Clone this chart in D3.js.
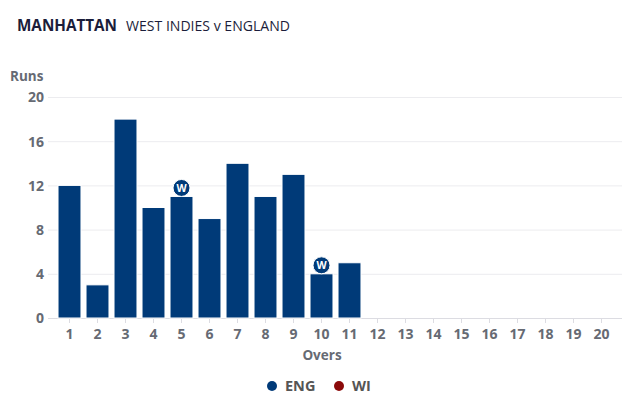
<!DOCTYPE html>
<html><head><meta charset="utf-8">
<script src="https://cdn.jsdelivr.net/npm/d3@7"></script>
<style>body{margin:0;background:#fff;}svg{display:block;font-family:"Open Sans",sans-serif;}</style>
</head><body>
<svg id="c" width="640" height="406"></svg>
<script>
const overs = d3.range(1, 21).map(String);
const engRuns = [12, 3, 18, 10, 11, 9, 14, 11, 13, 4, 5];
const engWickets = [5, 10];
const yTicks = [0, 4, 8, 12, 16, 20];
const legendItems = ["ENG", "WI"];
const legendColors = ["#003a78", "#8b0a0a"];

const svg = d3.select("#c");
const x = d3.scaleBand().domain(overs).range([55.5, 615.5]).paddingInner(0.18).paddingOuter(0.09);
const y = d3.scaleLinear().domain([0, 20]).range([318, 97]);

svg.append("text").attr("x", 17).attr("y", 31).attr("font-size", 16).attr("font-weight", 700)
  .attr("fill", "#1b1d3a").attr("textLength", 100).attr("lengthAdjust", "spacingAndGlyphs").text("MANHATTAN");
svg.append("text").attr("x", 126).attr("y", 31).attr("font-size", 14).attr("fill", "#1b1d3a")
  .attr("textLength", 164).attr("lengthAdjust", "spacingAndGlyphs").text("WEST INDIES v ENGLAND");

// grid
svg.append("g").selectAll("line").data(yTicks).join("line")
  .attr("x1", 48).attr("x2", 622).attr("y1", d => y(d) + 0.5).attr("y2", d => y(d) + 0.5)
  .attr("stroke", d => d === 0 ? "#dcdce2" : "#ececef").attr("stroke-width", 1);

const yAxis = d3.axisLeft(y).tickValues(yTicks).tickSize(0).tickPadding(0);
const gy = svg.append("g").attr("transform", "translate(44,0)").call(yAxis);
gy.select(".domain").remove();
gy.selectAll("text").attr("font-size", 14).attr("font-weight", 700).attr("fill", "#666a73")
  .attr("font-family", "Open Sans, sans-serif").attr("dy", "0.35em");

svg.append("text").attr("x", 10).attr("y", 81).attr("font-size", 13.5).attr("font-weight", 700)
  .attr("fill", "#666a73").text("Runs");

// x axis
const xAxis = d3.axisBottom(x).tickSize(5).tickPadding(6);
const gx = svg.append("g").attr("transform", "translate(0,318)").call(xAxis);
gx.select(".domain").remove();
gx.selectAll("line").attr("stroke", "#dcdce2");
gx.selectAll("text").attr("font-size", 14).attr("font-weight", 700).attr("fill", "#666a73")
  .attr("font-family", "Open Sans, sans-serif");

svg.append("text").attr("x", 322).attr("y", 360).attr("text-anchor", "middle").attr("font-size", 13.5)
  .attr("font-weight", 700).attr("fill", "#666a73").text("Overs");

// bars
svg.append("g").selectAll("rect").data(engRuns).join("rect")
  .attr("x", (d, i) => x(overs[i])).attr("width", x.bandwidth())
  .attr("y", d => y(d)).attr("height", d => y(0) - y(d))
  .attr("fill", legendColors[0]).attr("stroke", "#fff").attr("stroke-width", 1);

// wickets
const wg = svg.append("g").selectAll("g").data(engWickets).join("g")
  .attr("transform", o => `translate(${x(String(o)) + x.bandwidth() / 2},${y(engRuns[o - 1]) - 8.5})`);
wg.append("circle").attr("r", 8.5).attr("fill", legendColors[0]).attr("stroke", "#fff").attr("stroke-width", 1);
wg.append("text").attr("text-anchor", "middle").attr("dy", "0.36em").attr("font-size", 10.5)
  .attr("font-weight", 700).attr("fill", "#fff").text("W");

// legend
const lx = [272, 339];
const lg = svg.append("g").selectAll("g").data(legendItems).join("g")
  .attr("transform", (d, i) => `translate(${lx[i]},386)`);
lg.append("circle").attr("r", 5).attr("fill", (d, i) => legendColors[i]);
lg.append("text").attr("x", 13).attr("dy", "0.35em").attr("font-size", 14.5).attr("font-weight", 700)
  .attr("fill", "#555").text(d => d);
</script>
</body></html>
